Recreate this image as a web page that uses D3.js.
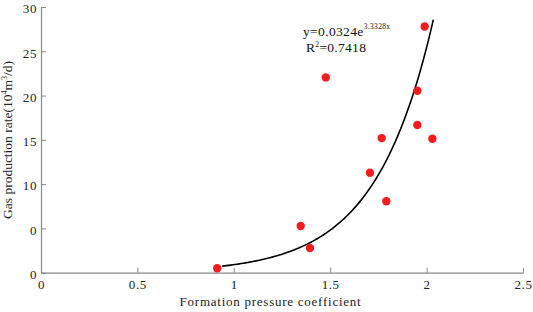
<!DOCTYPE html>
<html><head><meta charset="utf-8">
<script src="https://cdn.jsdelivr.net/npm/d3@7/dist/d3.min.js"></script>
<style>body{margin:0;background:#fff}svg{display:block}text{font-family:"Liberation Serif","Times New Roman",serif}</style>
</head><body>
<svg id="c" width="533" height="312"></svg>
<script>
const xValues = [0.914, 1.347, 1.395, 1.477, 1.706, 1.767, 1.791, 1.952, 1.952, 1.99, 2.03];
const yValues = [0.5, 5.27, 2.79, 22.05, 11.29, 15.2, 8.06, 20.54, 16.67, 27.8, 15.12];
const xTicks = [0, 0.5, 1, 1.5, 2, 2.5];
const xTickLabels = ["0", "0.5", "1", "1.5", "2", "2.5"];
const yTicks = [0, 5, 10, 15, 20, 25, 30];
const yTickLabels = ["0", "0", "10", "15", "20", "25", "30"];
const fitA = 0.0324, fitB = 3.3328, fitRange = [0.94, 2.035];
const fitSamples = d3.range(0, 101).map(i => fitRange[0] + (fitRange[1] - fitRange[0]) * i / 100);

const svg = d3.select("#c");
const x = d3.scaleLinear().domain([0, 2.5]).range([41, 523]);
const y = d3.scaleLinear().domain([0, 30]).range([272.7, 7]);
const axisColor = "#888";

const xa = svg.append("g").attr("transform", `translate(0,${y(0)})`)
  .call(d3.axisBottom(x).tickValues(xTicks).tickFormat((d, i) => xTickLabels[i]).tickSizeInner(-5).tickSizeOuter(0).tickPadding(7));
const ya = svg.append("g").attr("transform", `translate(${x(0)},0)`)
  .call(d3.axisLeft(y).tickValues(yTicks).tickFormat((d, i) => yTickLabels[i]).tickSizeInner(-5).tickSizeOuter(0).tickPadding(4));
[xa, ya].forEach(g => {
  g.select(".domain").attr("stroke", axisColor).attr("stroke-width", 1.2);
  g.selectAll(".tick line").attr("stroke", axisColor);
  g.selectAll(".tick text").attr("fill", "#222").style("font-size", "13px")
    .style("font-family", "Liberation Serif").style("letter-spacing", "0.6px");
});
xa.selectAll(".tick text").attr("dy", "0.71em");
ya.selectAll(".tick text").attr("dy", "0.45em");

svg.append("text").attr("x", 270.5).attr("y", 306).attr("text-anchor", "middle")
  .style("font-size", "13px").style("letter-spacing", "0.75px").attr("fill", "#222").text("Formation pressure coefficient");

const yl = svg.append("text").attr("transform", `translate(12,140) rotate(-90)`)
  .attr("text-anchor", "middle").style("font-size", "13.5px").attr("fill", "#222");
yl.append("tspan").text("Gas production rate(10");
yl.append("tspan").attr("dy", "-5").style("font-size", "8px").text("4");
yl.append("tspan").attr("dy", "5").text("m");
yl.append("tspan").attr("dy", "-5").style("font-size", "8px").text("3");
yl.append("tspan").attr("dy", "5").text("/d)");

const line = d3.line().x(d => x(d)).y(d => y(fitA * Math.exp(fitB * d))).curve(d3.curveLinear);
svg.append("path").datum(fitSamples).attr("d", line).attr("fill", "none").attr("stroke", "#000").attr("stroke-width", 1.6);

svg.selectAll("circle.pt").data(xValues).enter().append("circle").attr("class", "pt")
  .attr("cx", d => x(d)).attr("cy", (d, i) => y(yValues[i])).attr("r", 4.2).attr("fill", "#f41c1c");

const eq = svg.append("text").attr("x", 303).attr("y", 35.5).style("font-size", "13.5px").style("letter-spacing", "0.35px").attr("fill", "#111");
eq.append("tspan").text("y=0.0324e");
eq.append("tspan").attr("dy", "-7").style("font-size", "7.5px").text("3.3328x");
const r2 = svg.append("text").attr("x", 306).attr("y", 52).style("font-size", "13.5px").style("letter-spacing", "0.3px").attr("fill", "#111");
r2.append("tspan").text("R");
r2.append("tspan").attr("dy", "-5").style("font-size", "7.5px").text("2");
r2.append("tspan").attr("dy", "5").text("=0.7418");
</script>
</body></html>
